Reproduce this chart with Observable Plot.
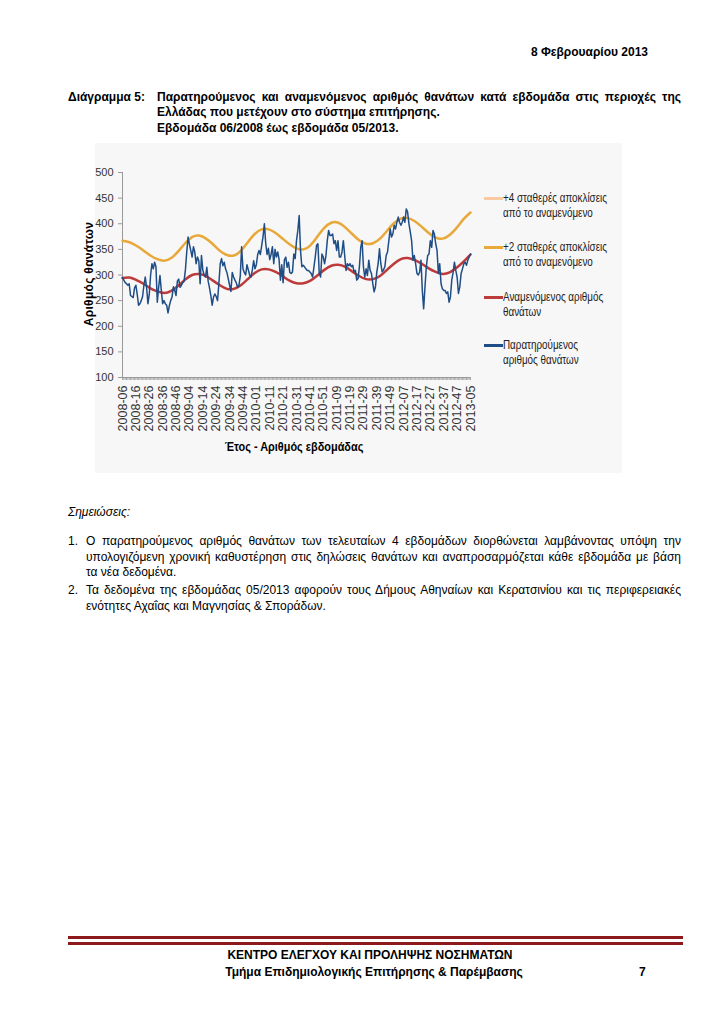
<!DOCTYPE html>
<html><head><meta charset="utf-8">
<script src="https://cdn.jsdelivr.net/npm/d3@7"></script>
<script src="https://cdn.jsdelivr.net/npm/@observablehq/plot@0.6"></script>
<style>
body{margin:0;background:#fff;}
#page{position:relative;width:724px;height:1024px;font-family:"Liberation Sans",Arial,sans-serif;color:#000;overflow:hidden;background:#fff;}
.t{position:absolute;white-space:nowrap;line-height:14px;font-size:12px;}
.b{font-weight:bold;}
.j{text-align:justify;text-align-last:justify;white-space:normal;}
#box{position:absolute;left:95px;top:143px;width:527px;height:330px;background:#f7f7f7;}
#chart{position:absolute;left:70px;top:143px;}
.lg{position:absolute;left:484px;font-size:12px;line-height:15px;color:#222;}
.lg .sw{position:absolute;left:0;top:6px;width:19px;height:2.5px;}
.lg .tx{position:absolute;left:19px;top:0;white-space:nowrap;transform:scaleX(0.82);transform-origin:0 0;}
.rule{position:absolute;left:68px;width:615px;background:#8c1a1d;}
</style></head>
<body><div id="page">
<div class="t b" style="right:76px;top:45px;">8 Φεβρουαρίου 2013</div>

<div class="t b" style="left:68px;top:90px;">Διάγραμμα 5:</div>
<div class="t b j" style="left:157px;top:90px;width:524px;">Παρατηρούμενος και αναμενόμενος αριθμός θανάτων κατά εβδομάδα στις περιοχές της</div>
<div class="t b" style="left:157px;top:105px;">Ελλάδας που μετέχουν στο σύστημα επιτήρησης.</div>
<div class="t b" style="left:157px;top:121px;">Εβδομάδα 06/2008 έως εβδομάδα 05/2013.</div>

<div id="box"></div>
<div id="chart"></div>
<div class="t b" style="left:19px;top:267px;width:140px;text-align:center;transform:rotate(-90deg);font-size:12px;letter-spacing:0.3px;">Αριθμός θανάτων</div>
<div class="t b" style="left:194px;top:440px;width:200px;text-align:center;font-size:13px;transform:scaleX(0.84);">Έτος - Αριθμός εβδομάδας</div>
<div id="legend"></div>

<div class="t" style="left:68px;top:505px;font-style:italic;">Σημειώσεις:</div>
<div class="t" style="left:68px;top:534px;">1.</div>
<div class="t j" style="left:86px;top:534px;width:595px;">Ο παρατηρούμενος αριθμός θανάτων των τελευταίων 4 εβδομάδων διορθώνεται λαμβάνοντας υπόψη την</div>
<div class="t j" style="left:86px;top:550px;width:595px;">υπολογιζόμενη χρονική καθυστέρηση στις δηλώσεις θανάτων και αναπροσαρμόζεται κάθε εβδομάδα με βάση</div>
<div class="t" style="left:86px;top:565px;">τα νέα δεδομένα.</div>
<div class="t" style="left:68px;top:583px;">2.</div>
<div class="t j" style="left:86px;top:583px;width:595px;">Τα δεδομένα της εβδομάδας 05/2013 αφορούν τους Δήμους Αθηναίων και Κερατσινίου και τις περιφερειακές</div>
<div class="t" style="left:86px;top:599px;">ενότητες Αχαΐας και Μαγνησίας &amp; Σποράδων.</div>

<div class="rule" style="top:936px;height:3px;"></div>
<div class="rule" style="top:942px;height:2.5px;"></div>
<div class="t b" style="left:170px;top:948px;width:400px;text-align:center;">ΚΕΝΤΡΟ ΕΛΕΓΧΟΥ ΚΑΙ ΠΡΟΛΗΨΗΣ ΝΟΣΗΜΑΤΩΝ</div>
<div class="t b" style="left:174px;top:965px;width:400px;text-align:center;">Τμήμα Επιδημιολογικής Επιτήρησης &amp; Παρέμβασης</div>
<div class="t b" style="left:639px;top:965px;">7</div>
</div>
<script>
// X tick labels (every 10th week)
const xTickLabels = ["2008-06","2008-16","2008-26","2008-36","2008-46",
  "2009-04","2009-14","2009-24","2009-34","2009-44",
  "2010-01","2010-11","2010-21","2010-31","2010-41","2010-51",
  "2011-09","2011-19","2011-29","2011-39","2011-49",
  "2012-07","2012-17","2012-27","2012-37","2012-47",
  "2013-05"];
const yTicks = [100,150,200,250,300,350,400,450,500];

// Observed weekly deaths, week 2008-06 .. 2013-05 (261 weeks)
const observed = [
295,290,285,283,280,283,260,258,256,275,
280,262,241,244,250,258,280,296,276,244,262,
300,322,312,325,316,247,276,299,270,244,
250,244,241,226,240,250,257,277,270,260,288,
292,276,280,285,288,310,345,374,360,348,
335,355,345,322,335,328,283,338,310,300,
296,315,288,275,260,241,257,263,258,250,283,
322,332,318,325,312,305,293,280,268,305,
296,290,285,276,280,298,355,312,305,300,320,
310,300,296,310,328,312,320,340,348,340,
358,375,400,362,340,352,330,340,355,322,
350,335,345,330,290,320,285,330,335,315,325,
305,303,306,341,332,367,387,416,348,316,
319,316,312,309,309,306,303,296,315,335,358,
361,303,296,341,335,322,338,367,387,377,
377,380,361,367,348,367,335,335,345,367,
338,309,322,318,322,316,319,306,309,290,293,
316,354,367,316,296,312,299,329,309,303,
283,267,277,306,322,351,322,306,310,316,338,
345,367,390,374,380,397,390,403,413,403,
397,403,413,403,429,423,400,384,367,329,
338,322,303,300,306,329,270,234,277,316,338,
341,367,354,387,380,361,348,303,322,283,
273,270,270,264,267,247,257,290,305,325,309,
296,264,277,303,312,322,325,319,329,335,
341];

// Expected and +2 SD, read at 51 evenly spaced points across the span
const expected = [294,295,290,283,274,268,265,269,279,291,300,302,298,289,280,273,273,280,292,304,311,311,306,298,289,284,284,289,299,310,318,320,316,307,298,292,292,298,310,322,331,333,329,322,313,306,302,305,314,326,340];
const plus2sd = [367,364,357,348,338,331,328,333,346,362,374,377,371,360,347,339,338,347,364,380,389,389,382,371,360,352,350,358,375,392,402,402,393,380,368,361,362,371,386,401,410,411,405,394,382,373,371,378,392,409,422];

const lastWeek = observed.length - 1;
const obsData = observed.map((v,i)=>({w:i,v}));
const step = lastWeek / (expected.length - 1);
const expData = expected.map((v,i)=>({w:i*step,v}));
const sd2Data = plus2sd.map((v,i)=>({w:i*step,v}));
const weeks = obsData.map(d=>d.w);

const colors = {sd4:"#f9c9a0", sd2:"#e9a83a", exp:"#bd3b3b", obs:"#1f4d86"};

const chart = Plot.plot({
  width: 420, height: 330,
  marginLeft: 52, marginRight: 20, marginTop: 29, marginBottom: 96,
  x: {domain:[0,lastWeek]},
  y: {domain:[100,500]},
  style: {fontFamily:"'Liberation Sans',sans-serif", fontSize:"12px", background:"transparent", color:"#333"},
  marks: [
    Plot.axisY({ticks: yTicks, tickSize:4, tickPadding:5, label:null, stroke:"#999", fill:"#333", fontSize:11}),
    Plot.axisX({ticks: weeks, tickSize:3, tickPadding:5, tickRotate:-90, stroke:"#aaa", fill:"#333", fontSize:12.5,
      tickFormat: i => i % 10 === 0 ? xTickLabels[i/10] : "", label:null}),
    Plot.ruleX([0],{stroke:"#999"}),
    Plot.ruleY([100],{stroke:"#999"}),
    Plot.line(sd2Data,{x:"w",y:"v",stroke:colors.sd2,strokeWidth:2.5,curve:"natural"}),
    Plot.line(expData,{x:"w",y:"v",stroke:colors.exp,strokeWidth:2.5,curve:"natural"}),
    Plot.line(obsData,{x:"w",y:"v",stroke:colors.obs,strokeWidth:1.5})
  ]
});
document.getElementById("chart").appendChild(chart);

const legendItems = [
  {c:colors.sd4, l:["+4 σταθερές αποκλίσεις","από το αναμενόμενο"], y:191},
  {c:colors.sd2, l:["+2 σταθερές αποκλίσεις","από το αναμενόμενο"], y:240},
  {c:colors.exp, l:["Αναμενόμενος αριθμός","θανάτων"], y:290},
  {c:colors.obs, l:["Παρατηρούμενος","αριθμός θανάτων"], y:338}
];
const lg = document.getElementById("legend");
for (const it of legendItems) {
  const d = document.createElement("div");
  d.className = "lg";
  d.style.top = it.y + "px";
  d.innerHTML = `<div class="sw" style="background:${it.c}"></div><div class="tx">${it.l.join("<br>")}</div>`;
  lg.appendChild(d);
}
</script>
</body></html>
